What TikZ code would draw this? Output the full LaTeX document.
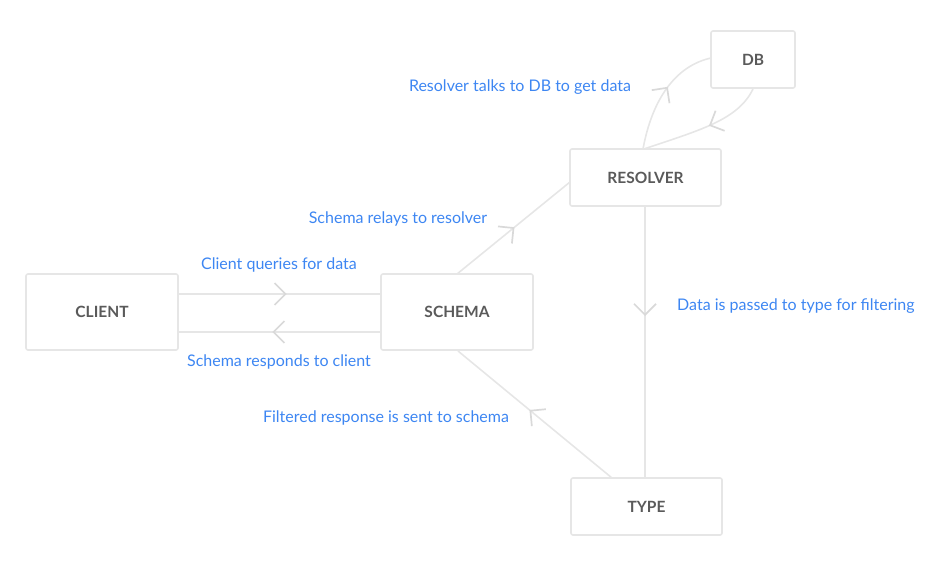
\documentclass[tikz,border=0pt]{standalone}
\usepackage{fontspec}
\setmainfont{Lato}
\usetikzlibrary{decorations.markings}
\definecolor{linegray}{HTML}{E6E6E6}
\definecolor{tipgray}{HTML}{D9D9D9}
\definecolor{boxtext}{HTML}{5A5A5A}
\definecolor{labelblue}{HTML}{3D86F2}
\tikzset{
  boxnode/.style={draw=linegray, line width=1.6pt, rounded corners=2pt, fill=white,
    text=boxtext, font=\fontsize{15.5}{17}\selectfont\bfseries, inner sep=0pt},
  conn/.style={draw=linegray, line width=1.6pt},
  lbl/.style={text=labelblue, font=\fontsize{16}{18}\selectfont, inner sep=0pt},
  midarrow/.style={postaction={decorate, decoration={markings,
     mark=at position #1 with {\draw[tipgray, line width=1.7pt, line join=miter] (-11pt,-11pt) -- (0pt,0pt) -- (-11pt,11pt);}}}}
}
\begin{document}
\begin{tikzpicture}[x=1pt,y=-1pt]
\useasboundingbox (0,0) rectangle (943,567);
\node[boxnode, minimum width=152pt, minimum height=76pt] (client) at (102,312) {CLIENT};
\node[boxnode, minimum width=152pt, minimum height=76pt] (schema) at (457,312) {SCHEMA};
\node[boxnode, minimum width=151pt, minimum height=57pt] (resolver) at (645.5,177.5) {RESOLVER};
\node[boxnode, minimum width=84pt, minimum height=57pt] (db) at (753,59.5) {DB};
\node[boxnode, minimum width=151pt, minimum height=57pt] (type) at (646.5,506.5) {TYPE};

\coordinate (cs1) at (client.east |- 0,294);
\coordinate (cs2) at (schema.west |- 0,294);
\coordinate (sc1) at (schema.west |- 0,332);
\coordinate (sc2) at (client.east |- 0,332);
\draw[conn, midarrow=0.53] (cs1) -- (cs2);
\draw[conn, midarrow=0.53] (sc1) -- (sc2);

\coordinate (sr1) at (457,274);
\coordinate (sr2) at (570,182);
\draw[conn, midarrow=0.5] (sr1) -- (sr2);

\coordinate (rt1) at (645,206);
\coordinate (rt2) at (645,478);
\draw[conn, midarrow=0.4] (rt1) -- (rt2);

\coordinate (ts1) at (612,478);
\coordinate (ts2) at (458,351);
\draw[conn, midarrow=0.53] (ts1) -- (ts2);

\coordinate (rd1) at (643,149);
\coordinate (rd2) at (711,58);
\draw[conn, midarrow=0.55] (rd1) .. controls (652,100) and (675,66) .. (rd2);

\coordinate (dr1) at (753,89);
\coordinate (dr2) at (644,149);
\draw[conn, midarrow=0.45] (dr1) .. controls (738,120) and (700,130) .. (dr2);

\node[lbl] (l1) at (520,87) {Resolver talks to DB to get data};
\node[lbl] (l2) at (398,219) {Schema relays to resolver};
\node[lbl] (l3) at (279,265) {Client queries for data};
\node[lbl] (l4) at (279,362) {Schema responds to client};
\node[lbl, anchor=west] (l5) at (677,306) {Data is passed to type for filtering};
\node[lbl] (l6) at (386,418) {Filtered response is sent to schema};
\end{tikzpicture}
\end{document}
